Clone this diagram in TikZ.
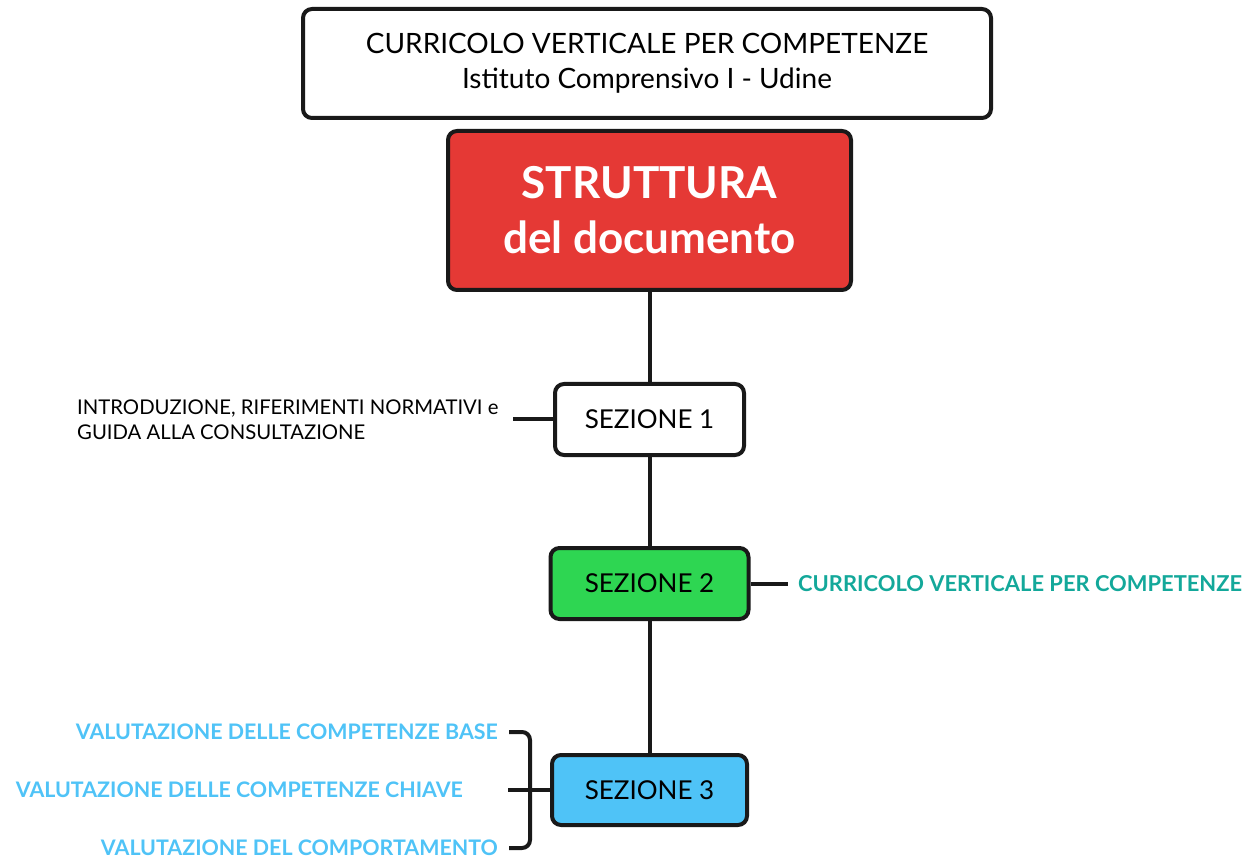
\documentclass[tikz,border=0pt]{standalone}
\usepackage{fontspec}
\setmainfont{Lato}
\usepackage{tikz}
\definecolor{redbox}{HTML}{E53935}
\definecolor{greenbox}{HTML}{2ED652}
\definecolor{bluebox}{HTML}{4FC3F7}
\definecolor{tealtext}{HTML}{13A89A}
\tikzset{
  box/.style={draw=black!90, line width=4pt, rounded corners=9pt, inner sep=0pt, align=center},
  link/.style={draw=black!90, line width=4pt},
  side/.style={inner sep=0pt, font=\fontsize{20.3}{25}\selectfont},
  valut/.style={side, text=bluebox, font=\fontsize{21.4}{25}\selectfont\bfseries}
}
\begin{document}
\begin{tikzpicture}[x=1pt,y=-1pt]
  \useasboundingbox (0,0) rectangle (1245,858);

  % header
  \node[box, fill=white, minimum width=688pt, minimum height=109pt,
        font=\fontsize{28}{35}\selectfont] (head) at (647,63.5)
    {CURRICOLO VERTICALE PER COMPETENZE\\Istituto Comprensivo I - Udine};

  \node[box, fill=redbox, text=white, minimum width=403pt, minimum height=159pt,
        font=\fontsize{44}{55}\selectfont\bfseries] (main) at (649.5,210.5)
    {STRUTTURA\\del documento};

  % sections
  \node[box, fill=white, minimum width=189pt, minimum height=71pt,
        font=\fontsize{26}{30}\selectfont] (sez1) at (649.5,419.5) {SEZIONE 1};
  \node[box, fill=greenbox, minimum width=198pt, minimum height=71pt,
        font=\fontsize{26}{30}\selectfont] (sez2) at (649.5,583.5) {SEZIONE 2};
  \node[box, fill=bluebox, minimum width=195pt, minimum height=70pt,
        font=\fontsize{26}{30}\selectfont] (sez3) at (649.5,790) {SEZIONE 3};

  \draw[link] (main.south) -- (sez1.north);
  \draw[link] (sez1.south) -- (sez2.north);
  \draw[link] (sez2.south) -- (sez3.north);

  % sezione 1
  \coordinate (s1l) at (513,419.5);
  \draw[link] (sez1.west) -- (s1l);
  \node[side, anchor=west, align=left] (intro) at (77,420)
    {INTRODUZIONE, RIFERIMENTI NORMATIVI e\\GUIDA ALLA CONSULTAZIONE};

  % sezione 2
  \coordinate (s2r) at (788,583.5);
  \draw[link] (sez2.east) -- (s2r);
  \node[side, anchor=west, text=tealtext, font=\fontsize{21.9}{25}\selectfont\bfseries]
    (curr) at (798,583.5) {CURRICOLO VERTICALE PER COMPETENZE};

  % sezione 3
  \node[valut, anchor=east] (base) at (498,732) {VALUTAZIONE DELLE COMPETENZE BASE};
  \node[valut, anchor=east] (chiave) at (463,790) {VALUTAZIONE DELLE COMPETENZE CHIAVE};
  \node[valut, anchor=east] (comp) at (498,848) {VALUTAZIONE DEL COMPORTAMENTO};
  \coordinate (brt) at (509,732);
  \coordinate (brb) at (509,848);
  \coordinate (brm) at (508,790);
  \draw[link, rounded corners=8pt] (brt) -- (530,732) -- (530,848) -- (brb);
  \draw[link] (brm) -- (sez3.west);
\end{tikzpicture}
\end{document}
